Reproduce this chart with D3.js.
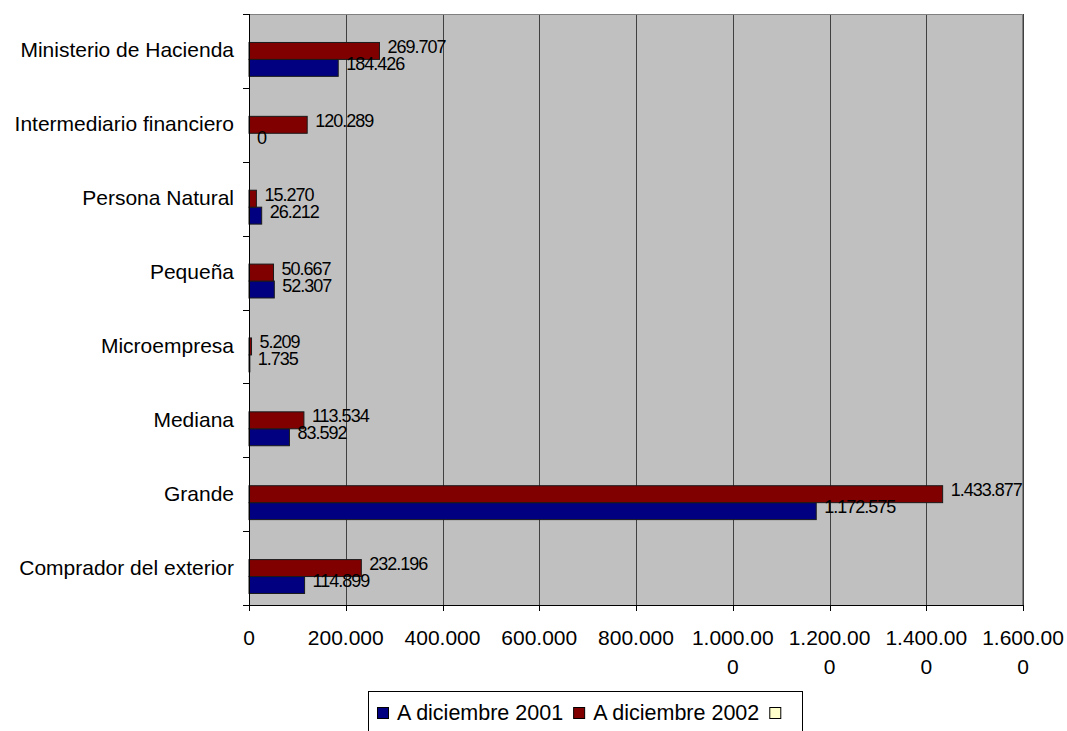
<!DOCTYPE html>
<html>
<head>
<meta charset="utf-8">
<script src="https://cdn.jsdelivr.net/npm/d3@7"></script>
<style>
  html, body { margin: 0; padding: 0; background: #fff; }
  svg { display: block; font-family: "Liberation Sans", Arial, sans-serif; }
</style>
</head>
<body>
<svg id="chart" width="1067" height="731"></svg>
<script>
// Categories, top to bottom
const categories = [
  "Ministerio de Hacienda",
  "Intermediario financiero",
  "Persona Natural",
  "Pequeña",
  "Microempresa",
  "Mediana",
  "Grande",
  "Comprador del exterior"
];

// Series values (same order as categories)
const values2001 = [184426, 0, 26212, 52307, 1735, 83592, 1172575, 114899];
const values2002 = [269707, 120289, 15270, 50667, 5209, 113534, 1433877, 232196];

const seriesNames = ["A diciembre 2001", "A diciembre 2002", ""];
const seriesColors = ["#000080", "#800000", "#FFFFCC"];

const xTicks = [0, 200000, 400000, 600000, 800000, 1000000, 1200000, 1400000, 1600000];

const locale = d3.formatLocale({ decimal: ",", thousands: ".", grouping: [3], currency: ["", ""] });
const fmt = locale.format(",d");

const svg = d3.select("#chart");
const plot = { left: 249, right: 1023, top: 14, bottom: 605 };

const x = d3.scaleLinear().domain([0, 1600000]).range([plot.left, plot.right]);
const y = d3.scaleBand().domain(categories).range([plot.top, plot.bottom]).padding(0);
// Within each category: the empty third series sits on top, then 2002, then 2001
const ySub = d3.scaleBand().domain([2, 1, 0]).range([0, y.bandwidth()]).paddingInner(0).paddingOuter(0.68);

// Plot area background
svg.append("rect")
  .attr("x", plot.left).attr("y", plot.top)
  .attr("width", plot.right - plot.left).attr("height", plot.bottom - plot.top)
  .attr("fill", "#C0C0C0");

// Vertical gridlines
svg.append("g")
  .selectAll("line")
  .data(xTicks.slice(1))
  .join("line")
  .attr("x1", d => Math.round(x(d)) + 0.5).attr("x2", d => Math.round(x(d)) + 0.5)
  .attr("y1", plot.top).attr("y2", plot.bottom)
  .attr("stroke", "#404040").attr("stroke-width", 1);

// Plot area border (top and right)
svg.append("path")
  .attr("d", `M${plot.left},${plot.top + 0.5}H${plot.right - 0.5}V${plot.bottom}`)
  .attr("fill", "none").attr("stroke", "#808080");

// Bars
const rows = categories.map((c, i) => ({ cat: c, vals: [values2001[i], values2002[i]] }));
const barData = [];
rows.forEach(r => r.vals.forEach((v, s) => barData.push({ cat: r.cat, s, v })));

svg.append("g")
  .selectAll("rect")
  .data(barData.filter(d => d.v > 0))
  .join("rect")
  .attr("x", plot.left)
  .attr("y", d => y(d.cat) + ySub(d.s))
  .attr("width", d => x(d.v) - x(0))
  .attr("height", ySub.bandwidth())
  .attr("fill", d => seriesColors[d.s])
  .attr("stroke", "#1a1a1a").attr("stroke-width", 1);

// Value labels
svg.append("g")
  .selectAll("text")
  .data(barData)
  .join("text")
  .attr("x", d => x(d.v) + 8)
  .attr("y", d => y(d.cat) + ySub(d.s) + ySub.bandwidth() / 2 - 4)
  .attr("dominant-baseline", "central")
  .attr("font-size", 18)
  .attr("letter-spacing", -1)
  .attr("fill", "#000")
  .text(d => fmt(d.v));

// Y axis
svg.append("line")
  .attr("x1", plot.left + 0.5).attr("x2", plot.left + 0.5)
  .attr("y1", plot.top).attr("y2", plot.bottom + 6)
  .attr("stroke", "#000");
const bounds = [plot.top].concat(categories.map(c => y(c) + y.bandwidth()));
svg.append("g")
  .selectAll("line")
  .data(bounds)
  .join("line")
  .attr("x1", plot.left - 6).attr("x2", plot.left)
  .attr("y1", d => Math.round(d) + 0.5).attr("y2", d => Math.round(d) + 0.5)
  .attr("stroke", "#000");

svg.append("g")
  .selectAll("text")
  .data(categories)
  .join("text")
  .attr("x", 234)
  .attr("y", d => y(d) + y.bandwidth() / 2 - 1)
  .attr("text-anchor", "end")
  .attr("dominant-baseline", "central")
  .attr("font-size", 21)
  .attr("fill", "#000")
  .text(d => d);

// X axis
svg.append("line")
  .attr("x1", plot.left - 6).attr("x2", plot.right)
  .attr("y1", plot.bottom + 0.5).attr("y2", plot.bottom + 0.5)
  .attr("stroke", "#000");
svg.append("g")
  .selectAll("line")
  .data(xTicks)
  .join("line")
  .attr("x1", d => Math.round(x(d)) + 0.5).attr("x2", d => Math.round(x(d)) + 0.5)
  .attr("y1", plot.bottom).attr("y2", plot.bottom + 6)
  .attr("stroke", "#000");

// Tick labels wrap after eight characters
const xl = svg.append("g")
  .selectAll("text")
  .data(xTicks)
  .join("text")
  .attr("text-anchor", "middle")
  .attr("font-size", 21)
  .attr("fill", "#000");
xl.each(function(d) {
  const s = fmt(d);
  const lines = [];
  for (let i = 0; i < s.length; i += 8) lines.push(s.slice(i, i + 8));
  d3.select(this).selectAll("tspan")
    .data(lines)
    .join("tspan")
    .attr("x", x(d))
    .attr("y", (l, i) => 637 + i * 29)
    .attr("dominant-baseline", "central")
    .text(l => l);
});

// Legend
const legend = svg.append("g");
legend.append("rect")
  .attr("x", 368.5).attr("y", 691.5)
  .attr("width", 434).attr("height", 50)
  .attr("fill", "#fff").attr("stroke", "#000");
let lx = 377;
seriesNames.forEach((name, i) => {
  legend.append("rect")
    .attr("x", lx + 0.5).attr("y", 707.5)
    .attr("width", 11).attr("height", 11)
    .attr("fill", seriesColors[i]).attr("stroke", "#000");
  const t = legend.append("text")
    .attr("x", lx + 20).attr("y", 713)
    .attr("dominant-baseline", "central")
    .attr("font-size", 21.5)
    .attr("fill", "#000")
    .text(name);
  const w = name ? t.node().getComputedTextLength() : 0;
  lx += 20 + w + 10;
});
</script>
</body>
</html>
